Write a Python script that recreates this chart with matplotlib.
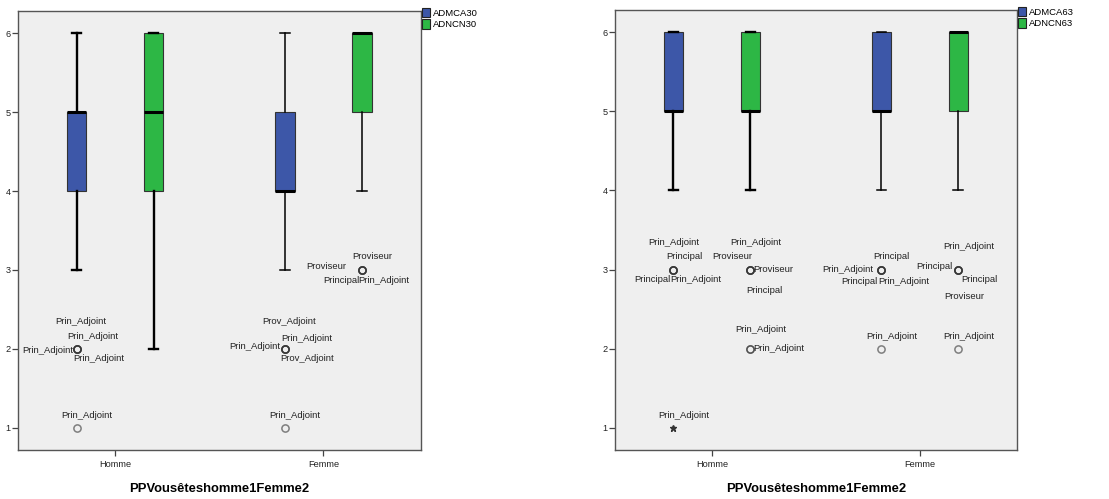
import matplotlib
matplotlib.use("Agg")
import matplotlib.pyplot as plt
from matplotlib.patches import Patch

plt.rcParams['font.family'] = ['Liberation Sans', 'DejaVu Sans']

groups = ['Homme', 'Femme']
xlabel = 'PPVousêteshomme1Femme2'

# box statistics, one value per group (Homme, Femme)
admca30 = dict(q1=[4, 4], med=[5, 4], q3=[5, 5], whislo=[3, 3], whishi=[6, 6])
adncn30 = dict(q1=[4, 5], med=[5, 6], q3=[6, 6], whislo=[2, 4], whishi=[6, 6])
admca63 = dict(q1=[5, 5], med=[5, 5], q3=[6, 6], whislo=[4, 4], whishi=[6, 6])
adncn63 = dict(q1=[5, 5], med=[5, 6], q3=[6, 6], whislo=[4, 4], whishi=[6, 6])

# outliers (circles): (value, case label)
admca30_out = [
    [(2, 'Prin_Adjoint'), (2, 'Prin_Adjoint'), (2, 'Prin_Adjoint'), (2, 'Prin_Adjoint'), (1, 'Prin_Adjoint')],
    [(2, 'Prov_Adjoint'), (2, 'Prin_Adjoint'), (2, 'Prin_Adjoint'), (2, 'Prov_Adjoint'), (1, 'Prin_Adjoint')],
]
adncn30_out = [
    [],
    [(3, 'Proviseur'), (3, 'Proviseur'), (3, 'Principal'), (3, 'Prin_Adjoint')],
]
admca63_out = [
    [(3, 'Prin_Adjoint'), (3, 'Principal'), (3, 'Principal'), (3, 'Prin_Adjoint')],
    [(3, 'Principal'), (3, 'Prin_Adjoint'), (3, 'Principal'), (3, 'Prin_Adjoint'), (2, 'Prin_Adjoint')],
]
adncn63_out = [
    [(3, 'Prin_Adjoint'), (3, 'Proviseur'), (3, 'Proviseur'), (3, 'Principal'), (2, 'Prin_Adjoint'), (2, 'Prin_Adjoint')],
    [(3, 'Prin_Adjoint'), (3, 'Principal'), (3, 'Principal'), (3, 'Proviseur'), (2, 'Prin_Adjoint')],
]
# extreme values (stars)
admca63_ext = [[(1, 'Prin_Adjoint')], []]

# label offsets in pixels (dx, dy downward), same order as the cases above
admca30_lab = [
    [(4, -27), (16, -12), (-29, 2), (22, 10), (10, -12)],
    [(4, -27), (22, -10), (-30, -2), (22, 10), (10, -12)],
]
adncn30_lab = [[], [(10, -13), (-36, -3), (-21, 11), (22, 11)]]
admca63_lab = [
    [(0, -27), (11, -13), (-21, 10), (22, 10)],
    [(10, -13), (-34, 0), (-22, 12), (22, 12), (10, -12)],
]
adncn63_lab = [
    [(5, -27), (-18, -13), (23, 0), (14, 21), (10, -19), (28, 0)],
    [(11, -23), (-24, -3), (21, 10), (6, 27), (11, -12)],
]
admca63_ext_lab = [[(10, -12)], []]

BLUE = '#3D57A8'
GREEN = '#2DB745'
OFFSET = 0.185
WIDTH = 0.092
WHISKER_LW = [1.7, 1.1]  # Homme whiskers render heavier than Femme in the original


def draw_var(ax, stats, outliers, labels, extremes, ext_labels, shift, color):
    bstats = []
    for i in range(len(groups)):
        bstats.append(dict(q1=stats['q1'][i], med=stats['med'][i], q3=stats['q3'][i],
                           whislo=stats['whislo'][i], whishi=stats['whishi'][i],
                           fliers=[v for v, _ in outliers[i]]))
    pos = [i + shift for i in range(len(groups))]
    art = ax.bxp(bstats, positions=pos, widths=WIDTH, patch_artist=True,
                 showfliers=True, manage_ticks=False,
                 boxprops=dict(facecolor=color, edgecolor='#333333', linewidth=0.8),
                 medianprops=dict(color='black', linewidth=2.2),
                 whiskerprops=dict(color='black', linewidth=1.4),
                 capprops=dict(color='black', linewidth=1.4),
                 flierprops=dict(marker='o', markerfacecolor='none', markeredgecolor='#333333',
                                 markersize=5.2, markeredgewidth=1.1, alpha=0.6, linestyle='none'))
    for i in range(len(groups)):
        for line in art['whiskers'][2 * i:2 * i + 2] + art['caps'][2 * i:2 * i + 2]:
            line.set_linewidth(WHISKER_LW[i])
        for (v, lab), (dx, dy) in zip(outliers[i], labels[i]):
            ax.annotate(lab, (pos[i], v), xytext=(dx, -dy), textcoords='offset pixels',
                        ha='center', va='center', fontsize=6.8, color='#222222')
        for (v, lab), (dx, dy) in zip(extremes[i], ext_labels[i]):
            ax.plot(pos[i], v, marker='*', color='#333333', markersize=5, linestyle='none')
            ax.annotate(lab, (pos[i], v), xytext=(dx, -dy), textcoords='offset pixels',
                        ha='center', va='center', fontsize=6.8, color='#222222')


def style_axes(ax, names):
    ax.set_facecolor('#EFEFEF')
    ax.set_xlim(-0.466, 1.468)
    ax.set_ylim(0.72, 6.28)
    ax.set_xticks(range(len(groups)))
    ax.set_xticklabels(groups)
    ax.set_yticks([1, 2, 3, 4, 5, 6])
    ax.tick_params(axis='both', labelsize=6.6, colors='#444444', labelcolor='#222222',
                   length=4, width=0.9)
    ax.tick_params(axis='y', pad=1.5)
    for s in ax.spines.values():
        s.set_color('#555555')
        s.set_linewidth(1.0)
    ax.set_xlabel(xlabel, fontsize=9.4, fontweight='bold', labelpad=10)
    handles = [Patch(facecolor=BLUE, edgecolor='#222222', linewidth=0.8),
               Patch(facecolor=GREEN, edgecolor='#222222', linewidth=0.8)]
    ax.legend(handles, names, loc='upper left', bbox_to_anchor=(1.0, 1.01), frameon=False,
              fontsize=6.8, handlelength=0.85, handleheight=1.2, handletextpad=0.3,
              labelspacing=0.15, borderaxespad=0.1, borderpad=0.0)


fig = plt.figure(figsize=(11.09, 4.99), dpi=100)
ax1 = fig.add_axes([0.01623, 0.0982, 0.3634, 0.8798])
ax2 = fig.add_axes([0.5546, 0.0982, 0.3625, 0.8818])

draw_var(ax1, admca30, admca30_out, admca30_lab, [[], []], [[], []], -OFFSET, BLUE)
draw_var(ax1, adncn30, adncn30_out, adncn30_lab, [[], []], [[], []], OFFSET, GREEN)
style_axes(ax1, ['ADMCA30', 'ADNCN30'])

draw_var(ax2, admca63, admca63_out, admca63_lab, admca63_ext, admca63_ext_lab, -OFFSET, BLUE)
draw_var(ax2, adncn63, adncn63_out, adncn63_lab, [[], []], [[], []], OFFSET, GREEN)
style_axes(ax2, ['ADMCA63', 'ADNCN63'])

fig.savefig('out.png', dpi=100)
